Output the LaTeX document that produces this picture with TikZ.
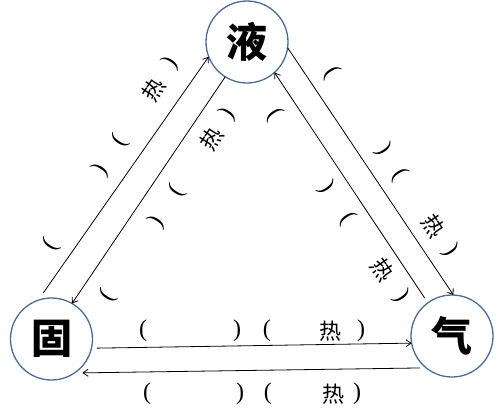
\documentclass[tikz,border=0pt]{standalone}
\usepackage{fontspec}
\usetikzlibrary{arrows.meta}
\newfontfamily\cjk{Noto Sans CJK SC}
\newfontfamily\parenfont{Liberation Serif}
\definecolor{ringblue}{RGB}{74,108,155}
\newcommand\LP{\makebox[0pt]{\raisebox{3pt}{\parenfont\fontsize{24}{24}\selectfont(}}}
\newcommand\RP{\makebox[0pt]{\raisebox{3pt}{\parenfont\fontsize{24}{24}\selectfont)}}}
\newcommand\RE{\makebox[0pt]{热}}
\newcommand\lbl[4]{\LP\hspace{#1pt}\RP\hspace{#2pt}\LP\hspace{#3pt}\RE\hspace{#4pt}\RP}
\begin{document}
\begin{tikzpicture}[x=1pt,y=-1pt,
  phase/.style={circle,draw=ringblue,line width=1.3pt,fill=white,minimum size=82pt,inner sep=0pt,outer sep=0pt,font=\cjk\bfseries\fontsize{41}{41}\selectfont},
  arr/.style={line width=0.8pt,-{Straight Barb[length=5pt,width=7pt]}},
  lab/.style={anchor=west,inner sep=0pt,outer sep=0pt,font=\cjk\fontsize{22}{22}\selectfont}]
\useasboundingbox (0,0) rectangle (500,416);
\node[phase] (ye) at (247,42) {液};
\node[phase] (gu) at (51.5,339) {固};
\node[phase] (qi) at (452,336) {气};
% connectors
\draw[arr,shorten <=9pt] (gu.109) -- (ye.201);
\draw[arr] (ye.238) -- (gu.60);
\draw[arr] (ye.352) -- (qi.88);
\draw[arr,shorten <=5.6pt] (qi.126) -- (ye.312);
\draw[arr,shorten <=5.5pt] (gu.-13) -- (qi.190);
\draw[arr,shorten <=6.4pt,shorten >=8pt] (qi.231) -- (gu.-56);
% labels
\node[lab,rotate=56.6] (la) at (51,245) {\lbl{90}{35}{61}{32}};
\node[lab,rotate=56.7] (lb) at (108,296) {\lbl{89}{37}{62}{30}};
\node[lab,rotate=-56.3] (lc) at (332,73) {\lbl{92}{30}{62}{29}};
\node[lab,rotate=-55.2] (ld) at (275,114) {\lbl{90}{37}{63}{32}};
\node[lab] (le) at (143,331) {\lbl{94}{30}{63}{31}};
\node[lab] (lf) at (147,394) {\lbl{93}{28}{65}{24}};
\end{tikzpicture}
\end{document}
